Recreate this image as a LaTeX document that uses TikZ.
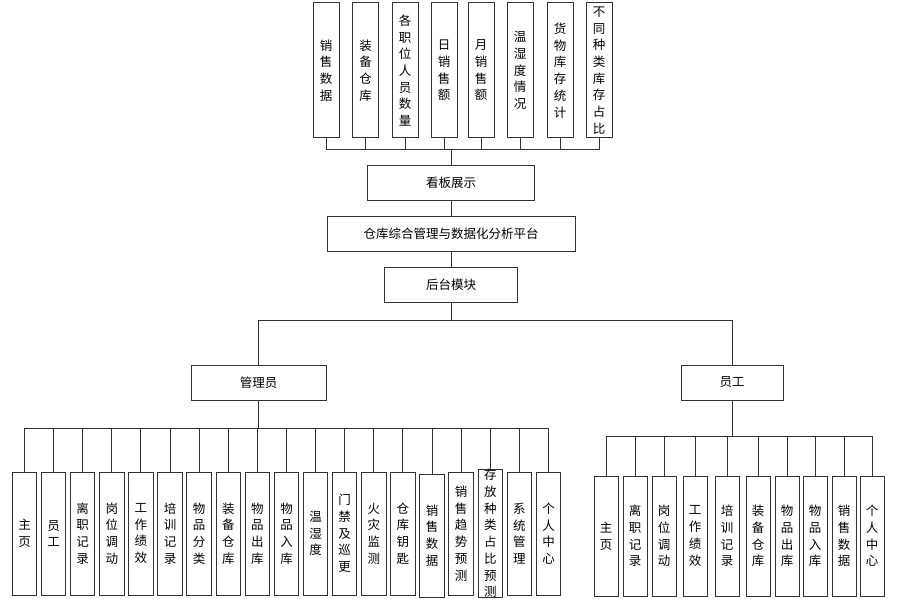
\documentclass[tikz,border=0pt]{standalone}
\usepackage{fontspec}
\setmainfont{Noto Sans CJK SC}
\usepackage{tikz}
\usetikzlibrary{
    positioning,
    calc
}

\begin{document}
\begin{tikzpicture}[
    x=1pt, y=-1pt,
    box/.style={
        rectangle,
        draw=black!80,
        line width=1pt,
        inner sep=0pt,
        align=center,
        font=\fontsize{12.5}{16.7}\selectfont
    },
    topbox/.style={box, minimum width=26pt, minimum height=135pt},
    wide/.style={box, minimum height=35pt},
    mgrbox/.style={box, minimum width=24.5pt, minimum height=123pt},
    empbox/.style={box, minimum width=24pt, minimum height=120pt},
    link/.style={draw=black!80, line width=1pt}
]
\useasboundingbox (0,0) rectangle (899,599);

% ============================================================
% NODOS
% ============================================================

% Datos del tablero
\node[topbox] (t1) at (326,70.5)   {销\\售\\数\\据};
\node[topbox] (t2) at (365.5,70.5) {装\\备\\仓\\库};
\node[topbox] (t3) at (405,70.5)   {各\\职\\位\\人\\员\\数\\量};
\node[topbox] (t4) at (444,70.5)   {日\\销\\售\\额};
\node[topbox] (t5) at (481,70.5)   {月\\销\\售\\额};
\node[topbox] (t6) at (520,70.5)   {温\\湿\\度\\情\\况};
\node[topbox] (t7) at (560,70.5)   {货\\物\\库\\存\\统\\计};
\node[topbox] (t8) at (599,70.5)   {不\\同\\种\\类\\库\\存\\占\\比};

% Eje central
\node[wide, minimum width=167pt] (kanban)   at (451,182.5) {看板展示};
\node[wide, minimum width=248pt] (platform) at (451,233.5) {仓库综合管理与数据化分析平台};
\node[wide, minimum width=133pt] (back)     at (451,284.5) {后台模块};

% Roles
\node[wide, minimum width=135pt] (mgr) at (258.5,382.5) {管理员};
\node[wide, minimum width=102pt] (emp) at (732,382.5)   {员工};

% Funciones del administrador
\node[mgrbox] (m1)  at (24.5,533.5)  {主\\页};
\node[mgrbox] (m2)  at (53.6,533.5)  {员\\工};
\node[mgrbox] (m3)  at (82.7,533.5)  {离\\职\\记\\录};
\node[mgrbox] (m4)  at (111.8,533.5) {岗\\位\\调\\动};
\node[mgrbox] (m5)  at (140.9,533.5) {工\\作\\绩\\效};
\node[mgrbox] (m6)  at (170.1,533.5) {培\\训\\记\\录};
\node[mgrbox] (m7)  at (199.2,533.5) {物\\品\\分\\类};
\node[mgrbox] (m8)  at (228.3,533.5) {装\\备\\仓\\库};
\node[mgrbox] (m9)  at (257.4,533.5) {物\\品\\出\\库};
\node[mgrbox] (m10) at (286.5,533.5) {物\\品\\入\\库};
\node[mgrbox] (m11) at (315.6,533.5) {温\\湿\\度};
\node[mgrbox] (m12) at (344.7,533.5) {门\\禁\\及\\巡\\更};
\node[mgrbox] (m13) at (373.8,533.5) {火\\灾\\监\\测};
\node[mgrbox] (m14) at (402.9,533.5) {仓\\库\\钥\\匙};
\node[mgrbox] (m15) at (432,535.5)   {销\\售\\数\\据};
\node[mgrbox] (m16) at (461.2,533.5) {销\\售\\趋\\势\\预\\测};
\node[mgrbox] (m17) at (490.3,533.5) {存\\放\\种\\类\\占\\比\\预\\测};
\node[mgrbox] (m18) at (519.4,533.5) {系\\统\\管\\理};
\node[mgrbox] (m19) at (548.5,533.5) {个\\人\\中\\心};

% Funciones del empleado
\node[empbox] (e1)  at (606,536) {主\\页};
\node[empbox] (e2)  at (635,536) {离\\职\\记\\录};
\node[empbox] (e3)  at (664,536) {岗\\位\\调\\动};
\node[empbox] (e4)  at (695,536) {工\\作\\绩\\效};
\node[empbox] (e5)  at (727,536) {培\\训\\记\\录};
\node[empbox] (e6)  at (758,536) {装\\备\\仓\\库};
\node[empbox] (e7)  at (787,536) {物\\品\\出\\库};
\node[empbox] (e8)  at (815,536) {物\\品\\入\\库};
\node[empbox] (e9)  at (844,536) {销\\售\\数\\据};
\node[empbox] (e10) at (872,536) {个\\人\\中\\心};

% ============================================================
% CONEXIONES
% ============================================================

% Datos → tablero
\draw[link] (t1.south) -- ++(0,11) -| (kanban.north);
\draw[link] (t2.south) -- ++(0,11) -| (kanban.north);
\draw[link] (t3.south) -- ++(0,11) -| (kanban.north);
\draw[link] (t4.south) -- ++(0,11) -| (kanban.north);
\draw[link] (t5.south) -- ++(0,11) -| (kanban.north);
\draw[link] (t6.south) -- ++(0,11) -| (kanban.north);
\draw[link] (t7.south) -- ++(0,11) -| (kanban.north);
\draw[link] (t8.south) -- ++(0,11) -| (kanban.north);

% Tablero → plataforma → backend
\draw[link] (kanban) -- (platform);
\draw[link] (platform) -- (back);

% Backend → roles
\draw[link] (back.south) -- ++(0,18) -| (mgr.north);
\draw[link] (back.south) -- ++(0,18) -| (emp.north);

% Administrador → funciones
\draw[link] (mgr.south) -- ++(0,28) -| (m1.north);
\draw[link] (mgr.south) -- ++(0,28) -| (m2.north);
\draw[link] (mgr.south) -- ++(0,28) -| (m3.north);
\draw[link] (mgr.south) -- ++(0,28) -| (m4.north);
\draw[link] (mgr.south) -- ++(0,28) -| (m5.north);
\draw[link] (mgr.south) -- ++(0,28) -| (m6.north);
\draw[link] (mgr.south) -- ++(0,28) -| (m7.north);
\draw[link] (mgr.south) -- ++(0,28) -| (m8.north);
\draw[link] (mgr.south) -- ++(0,28) -| (m9.north);
\draw[link] (mgr.south) -- ++(0,28) -| (m10.north);
\draw[link] (mgr.south) -- ++(0,28) -| (m11.north);
\draw[link] (mgr.south) -- ++(0,28) -| (m12.north);
\draw[link] (mgr.south) -- ++(0,28) -| (m13.north);
\draw[link] (mgr.south) -- ++(0,28) -| (m14.north);
\draw[link] (mgr.south) -- ++(0,28) -| (m15.north);
\draw[link] (mgr.south) -- ++(0,28) -| (m16.north);
\draw[link] (mgr.south) -- ++(0,28) -| (m17.north);
\draw[link] (mgr.south) -- ++(0,28) -| (m18.north);
\draw[link] (mgr.south) -- ++(0,28) -| (m19.north);

% Empleado → funciones
\draw[link] (emp.south) -- ++(0,36) -| (e1.north);
\draw[link] (emp.south) -- ++(0,36) -| (e2.north);
\draw[link] (emp.south) -- ++(0,36) -| (e3.north);
\draw[link] (emp.south) -- ++(0,36) -| (e4.north);
\draw[link] (emp.south) -- ++(0,36) -| (e5.north);
\draw[link] (emp.south) -- ++(0,36) -| (e6.north);
\draw[link] (emp.south) -- ++(0,36) -| (e7.north);
\draw[link] (emp.south) -- ++(0,36) -| (e8.north);
\draw[link] (emp.south) -- ++(0,36) -| (e9.north);
\draw[link] (emp.south) -- ++(0,36) -| (e10.north);

\end{tikzpicture}
\end{document}
